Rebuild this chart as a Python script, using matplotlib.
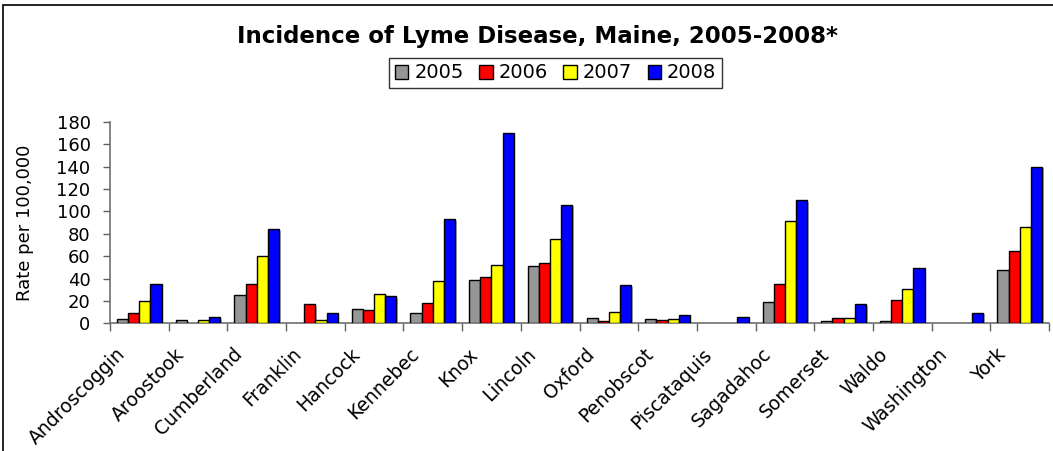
import matplotlib
matplotlib.use("Agg")
import matplotlib.pyplot as plt
import matplotlib.patheffects as pe
from matplotlib.patches import Rectangle, Patch
from matplotlib.transforms import ScaledTranslation
import numpy as np

counties = ["Androscoggin", "Aroostook", "Cumberland", "Franklin", "Hancock",
            "Kennebec", "Knox", "Lincoln", "Oxford", "Penobscot", "Piscataquis",
            "Sagadahoc", "Somerset", "Waldo", "Washington", "York"]
years = ["2005", "2006", "2007", "2008"]
rate_2005 = [4, 3, 25, 0, 12.5, 9.5, 39, 51, 5, 4, 0, 19, 2, 2, 0, 48]
rate_2006 = [9, 0, 35, 17, 11.5, 18, 41, 54, 2, 3, 0, 35, 5, 21, 0, 65]
rate_2007 = [20, 3, 60, 3, 26.5, 38, 52, 75, 10.5, 4, 0, 91, 5, 30.5, 0, 86]
rate_2008 = [35, 5.5, 84, 9.5, 24, 93, 170, 106, 34, 7.5, 5.5, 110, 17, 49.5, 9.5, 140]
colors = ["#969696", "#ff0000", "#ffff00", "#0000ff"]
yticks = [0, 20, 40, 60, 80, 100, 120, 140, 160, 180]

series = [rate_2005, rate_2006, rate_2007, rate_2008]

fig = plt.figure(figsize=(10.53, 4.51), dpi=100)
ax = fig.add_axes([110/1053, 1-323.3/451, (1049-110)/1053, (323.3-121.7)/451])

x = np.arange(len(counties))
w = 0.19
shadow = [pe.SimplePatchShadow(offset=(1.2, -1.2), shadow_rgbFace="#808080", alpha=0.6), pe.Normal()]
for i, (vals, c) in enumerate(zip(series, colors)):
    bars = ax.bar(x + (i - 1.5) * w, vals, width=w, color=c, edgecolor="black",
                  linewidth=1.0, zorder=3)
    for b in bars:
        if b.get_height() > 0:
            b.set_path_effects(shadow)
        else:
            b.set_visible(False)

ax.set_xlim(-0.5, len(counties) - 0.5)
ax.set_ylim(0, 180)
ax.set_yticks(yticks)
ax.set_yticklabels([str(t) for t in yticks], fontsize=13)
ax.set_xticks(np.arange(len(counties) + 1) - 0.5)
ax.set_xticklabels([])
ax.tick_params(axis="y", direction="out", length=5, width=1, color="#606060", pad=9)
ax.tick_params(axis="x", direction="out", length=6, width=1, color="#606060")
for s in ["top", "right"]:
    ax.spines[s].set_visible(False)
for s in ["left", "bottom"]:
    ax.spines[s].set_color("#707070")
    ax.spines[s].set_linewidth(1.2)

off = ScaledTranslation(-17/100, -28/100, fig.dpi_scale_trans)
for xi, name in zip(x, counties):
    ax.text(xi, 0, name, transform=ax.get_xaxis_transform() + off,
            rotation=45, rotation_mode="anchor", ha="right", va="center",
            fontsize=13.5)

fig.text(25/1053, 1-223/451, "Rate per 100,000", rotation=90, ha="center", va="center",
         fontsize=13)

fig.text(537/1053, 1-37/451, "Incidence of Lyme Disease, Maine, 2005-2008*",
         ha="center", va="center", fontsize=16.5, fontweight="bold")

handles = [Patch(facecolor=c, edgecolor="black", linewidth=1.0) for c in colors]
leg = fig.legend(handles, years, loc="center", bbox_to_anchor=(555.5/1053, 1-73/451),
                 ncol=4, frameon=True, fontsize=14, handlelength=0.7, handleheight=0.7,
                 handletextpad=0.3, columnspacing=0.8, borderpad=0.3, fancybox=False)
leg.get_frame().set_edgecolor("black")
leg.get_frame().set_linewidth(1.0)

fig.patches.append(Rectangle((3/1053, -0.5), 2, 1.5 - 5/451, transform=fig.transFigure,
                             fill=False, edgecolor="black", linewidth=1.2))

fig.savefig("out.png", dpi=100, facecolor="white")
